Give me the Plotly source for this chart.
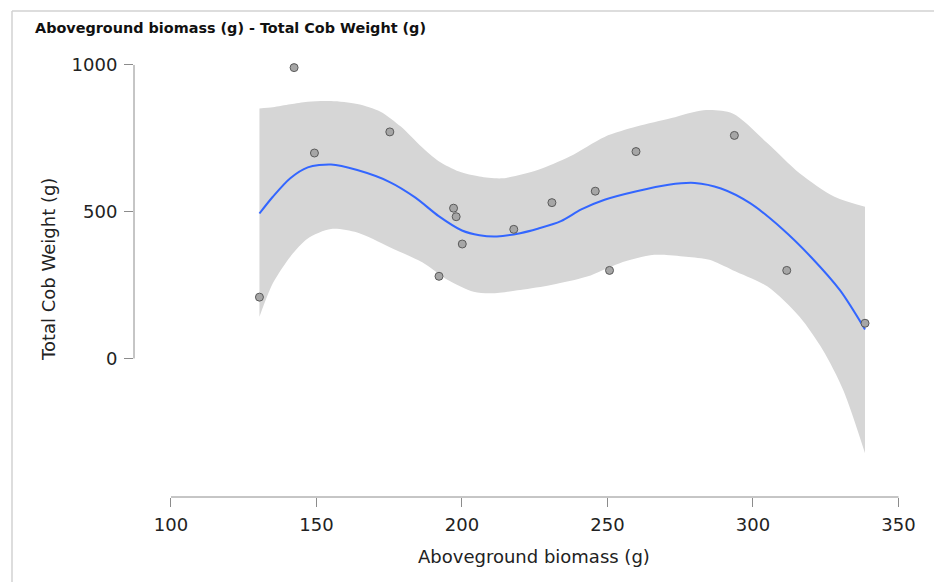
import plotly.graph_objects as go

# ---- data ----
biomass = [130.4, 142.3, 149.3, 175.2, 192.1, 197.1, 198.0, 200.1, 217.8, 230.9,
           245.8, 250.7, 259.8, 293.6, 311.6, 338.5]
cob_weight = [209, 991, 700, 772, 280, 512, 483, 390, 440, 531,
              570, 300, 705, 760, 300, 120]

smooth_x = [130.4, 135, 141, 147, 155, 164, 175, 184, 192, 200, 206, 212, 220, 226,
            234, 241, 249, 260, 271, 280, 289, 299, 310, 320, 330, 338.5]
smooth_y = [494, 551, 614, 651, 661, 642, 602, 548, 485, 436, 420, 416, 427, 442,
            468, 508, 541, 570, 592, 598, 579, 529, 442, 345, 231, 99]

upper_x = [130.4, 135, 141, 147, 155, 164, 172, 179, 186, 192, 199, 206, 214, 226,
           237, 249, 260, 272, 283, 293, 305, 316, 328, 338.5]
upper_y = [852, 856, 866, 875, 877, 867, 841, 790, 722, 672, 637, 620, 614, 642,
           688, 755, 790, 819, 846, 835, 733, 631, 551, 517]

lower_x = [130.4, 135, 141, 147, 155, 164, 175, 187, 195, 204, 210, 220, 231, 243,
           254, 266, 277, 285, 293, 305, 316, 324, 331, 338.5]
lower_y = [142, 256, 347, 409, 441, 429, 380, 324, 268, 227, 222, 233, 251, 279,
           324, 353, 347, 336, 301, 245, 142, 29, -107, -323]

x_ticks = [100, 150, 200, 250, 300, 350]
y_ticks = [0, 500, 1000]

title_text = "Aboveground biomass (g) - Total Cob Weight (g)"
x_title = "Aboveground biomass (g)"
y_title = "Total Cob Weight (g)"

# ---- layout geometry (page pixels; the page body has an 8px margin) ----
OFF = 8
PAGE_W, PAGE_H = 942, 582
W, H = PAGE_W - OFF, PAGE_H - OFF
PLOT_L, PLOT_R, PLOT_T, PLOT_B = 134, 911, 55, 497  # page px
L = PLOT_L - OFF
T = PLOT_T - OFF
R = W - (PLOT_R - OFF)
B = H - (PLOT_B - OFF)
pw, ph = W - L - R, H - T - B


def px_to_paper_x(px):
    return (px - PLOT_L) / pw


def py_to_paper_y(py):
    return (PLOT_B - py) / ph


fig = go.Figure()

fig.add_trace(go.Scatter(x=lower_x, y=lower_y, mode="lines",
                         line=dict(width=0, shape="spline", smoothing=0.8, color="rgba(0,0,0,0)"),
                         hoverinfo="skip", showlegend=False))
fig.add_trace(go.Scatter(x=upper_x, y=upper_y, mode="lines", fill="tonexty",
                         fillcolor="#d6d6d6",
                         line=dict(width=0, shape="spline", smoothing=0.8, color="rgba(0,0,0,0)"),
                         hoverinfo="skip", showlegend=False))
fig.add_trace(go.Scatter(x=smooth_x, y=smooth_y, mode="lines",
                         line=dict(color="#3366FF", width=2, shape="spline", smoothing=0.8),
                         showlegend=False))
fig.add_trace(go.Scatter(x=biomass, y=cob_weight, mode="markers",
                         marker=dict(size=8, color="#a6a6a6",
                                     line=dict(color="#5a5a5a", width=1)),
                         showlegend=False))

font_main = "DejaVu Sans, Verdana, sans-serif"

fig.update_xaxes(range=[87.29, 354.3], tickvals=x_ticks, ticks="outside", ticklen=9,
                 tickcolor="#8c8c8c", tickwidth=1, showgrid=False, zeroline=False,
                 showline=False, tickfont=dict(family=font_main, size=18, color="#222"),
                 ticklabelstandoff=2)
fig.update_yaxes(range=[-472, 1034], tickvals=y_ticks, ticks="outside", ticklen=9,
                 tickcolor="#8c8c8c", tickwidth=1, showgrid=False, zeroline=False,
                 showline=False, tickfont=dict(family=font_main, size=18, color="#222"),
                 ticklabelstandoff=3)

# axis lines spanning only the tick range
fig.add_shape(type="line", xref="x", yref="paper", x0=x_ticks[0], x1=x_ticks[-1],
              y0=0, y1=0, line=dict(color="#8c8c8c", width=1))
fig.add_shape(type="line", xref="paper", yref="y", x0=0, x1=0,
              y0=y_ticks[0], y1=y_ticks[-1], line=dict(color="#8c8c8c", width=1))

# panel border (top and left)
fig.add_shape(type="line", xref="paper", yref="paper",
              x0=px_to_paper_x(12), x1=px_to_paper_x(PAGE_W + 5),
              y0=py_to_paper_y(11), y1=py_to_paper_y(11),
              line=dict(color="#d2d2d2", width=1.5))
fig.add_shape(type="line", xref="paper", yref="paper",
              x0=px_to_paper_x(12), x1=px_to_paper_x(12),
              y0=py_to_paper_y(11), y1=py_to_paper_y(PAGE_H + 5),
              line=dict(color="#d2d2d2", width=1.5))

fig.add_annotation(text="<b>" + title_text + "</b>", xref="paper", yref="paper",
                   x=px_to_paper_x(33), y=py_to_paper_y(28), xanchor="left", yanchor="middle",
                   showarrow=False, font=dict(family=font_main, size=14.4, color="#111"))
fig.add_annotation(text=x_title, xref="paper", yref="paper",
                   x=px_to_paper_x(534), y=py_to_paper_y(556), xanchor="center", yanchor="middle",
                   showarrow=False, font=dict(family=font_main, size=18, color="#222"))
fig.add_annotation(text=y_title, xref="paper", yref="paper", textangle=-90,
                   x=px_to_paper_x(48), y=py_to_paper_y(270), xanchor="center", yanchor="middle",
                   showarrow=False, font=dict(family=font_main, size=18, color="#222"))

fig.update_layout(width=W, height=H, margin=dict(l=L, r=R, t=T, b=B, autoexpand=False),
                  plot_bgcolor="white", paper_bgcolor="white", showlegend=False)

fig.write_html("out.html")
